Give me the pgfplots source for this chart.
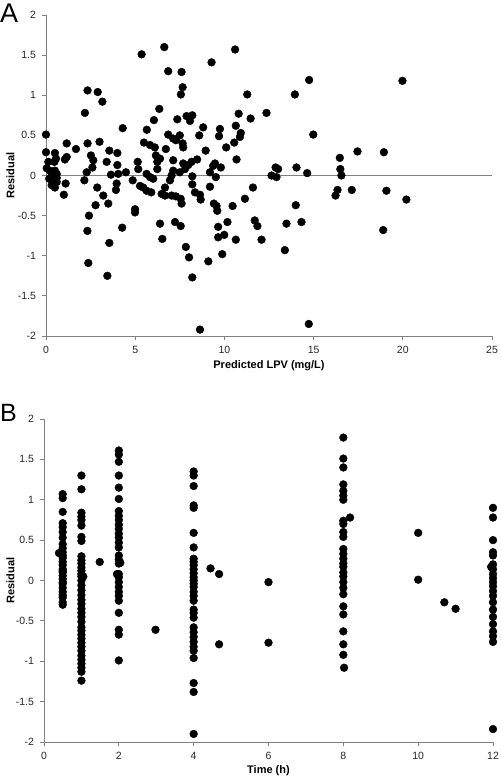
\documentclass[border=0pt]{standalone}
\usepackage{pgfplots}
\pgfplotsset{compat=1.18}
\usepackage{fontspec}
\setmainfont{Liberation Sans}
\definecolor{axgray}{RGB}{128,128,128}
\pgfplotsset{
  resid/.style={
    scale only axis,
    axis lines*=left,
    axis line style={axgray, line width=0.9pt, -},
    tick style={axgray, line width=0.8pt},
    tick align=outside,
    major tick length=4pt,
    /pgf/number format/assume math mode=true,
    ticklabel style={font=\fontsize{10.5}{11}\selectfont, text=black!85},
    yticklabel style={xshift=-2.5pt},
    xticklabel style={yshift=-2.5pt},
    label style={font=\fontsize{11}{12}\selectfont\bfseries},
    ymin=-2, ymax=2,
    ytick={-2,-1.5,-1,-0.5,0,0.5,1,1.5,2},
    yticklabels={-2,-1.5,-1,-0.5,0,0.5,1,1.5,2},
    clip=false,
  },
  dots/.style={only marks, mark=*, mark size=3.9pt, mark options={fill=black, draw=black}},
}
\begin{document}
\begin{tikzpicture}
\useasboundingbox (0,0) rectangle (500pt,-778pt);
% Panel A
\begin{axis}[resid,
  at={(46pt,-336pt)}, anchor=south west,
  width=446pt, height=321pt,
  xmin=0, xmax=25,
  xtick={0,5,10,15,20,25}, xticklabels={0,5,10,15,20,25},
  xlabel={Predicted LPV (mg/L)}, ylabel={Residual},
  xlabel style={at={(axis description cs:0.5,-0.092)}, anchor=center},
  ylabel style={at={(axis description cs:-0.0796,0.5)}, anchor=center},
]
\addplot[axgray, line width=0.8pt] coordinates {(0,0) (25,0)};
\addplot[dots] table {
0 0.51
0 0.29
0.13 0.17
0.04 0.09
0.5 0.28
0.56 0.21
0.47 0.17
0.22 0.06
0.5 0.06
0.6 0.02
0.32 -0.01
0.41 -0.06
0.6 -0.08
0.32 -0.12
0.5 -0.15
0.6 -0.03
0.18 -0.04
1.0 -0.24
1.1 -0.10
1.16 0.40
1.68 0.33
1.06 0.20
1.16 0.23
2.18 0.78
2.33 1.06
2.9 1.04
3.16 0.92
2.33 0.40
3.0 0.42
2.52 0.25
2.65 0.19
2.6 0.10
2.28 0.04
2.15 -0.06
2.87 -0.15
3.21 -0.25
2.78 -0.37
3.49 -0.35
2.41 -0.50
2.32 -0.69
2.37 -1.09
3.44 -1.25
3.55 -0.84
3.55 0.31
3.4 0.17
3.64 0.01
4.0 0.28
4.0 0.13
4.05 0.02
4.48 0.04
3.96 -0.10
3.92 -0.18
4.3 0.59
4.27 -0.65
4.86 -0.06
4.99 -0.42
4.99 -0.46
5.14 0.17
5.17 0.08
5.27 -0.13
5.36 1.51
5.49 0.41
5.65 0.57
5.45 -0.15
5.64 -0.19
5.9 -0.21
5.64 0.02
5.83 -0.02
6.01 -0.04
5.83 0.38
6.1 0.35
6.05 0.69
6.35 0.83
6.16 0.25
6.24 0.17
6.39 0.21
6.24 0.08
6.48 -0.23
6.39 -0.60
6.52 -0.79
6.63 1.60
6.85 1.30
6.72 0.33
6.85 0.51
7.13 0.46
7.5 0.50
7.28 0.44
7.66 0.40
7.69 0.35
7.36 0.70
7.13 0.19
7.13 0.06
7.04 0.0
7.5 0.04
7.79 0.08
6.95 -0.06
6.67 -0.15
6.67 -0.25
7.04 -0.25
7.28 -0.26
7.55 -0.29
7.6 -0.35
7.23 -0.58
7.55 -0.63
7.84 -0.89
7.6 1.29
7.66 1.10
7.56 1.01
7.69 0.15
7.88 0.74
7.97 0.13
8.02 -1.02
8.2 0.75
8.07 0.68
8.16 0.17
8.2 -0.01
8.2 -0.11
8.47 0.20
8.59 0.50
8.81 0.60
8.95 0.31
8.35 -0.21
8.63 -0.24
8.67 -0.30
8.2 -1.27
8.63 -1.92
9.1 -1.07
9.28 1.41
9.19 0.04
9.37 0.12
9.47 0.15
9.52 -0.02
9.8 0.10
9.19 -0.14
9.41 -0.35
9.56 -0.38
9.6 -0.44
9.65 -0.64
9.65 -0.77
9.99 -0.74
9.88 -0.98
9.75 0.58
9.7 0.49
10.1 0.35
10.17 -0.58
10.46 -0.38
10.55 0.41
10.64 0.62
10.6 1.57
10.68 0.20
10.8 0.77
10.87 0.48
10.92 0.53
10.64 -0.80
11.28 1.01
11.47 0.71
11.15 -0.29
11.6 -0.15
11.7 -0.56
11.85 -0.63
12.08 -0.80
12.36 0.78
12.64 0.0
12.87 0.10
13.01 0.08
12.92 -0.02
13.39 -0.93
13.48 -0.60
13.95 1.01
14.0 -0.37
14.04 0.10
14.32 -0.58
14.64 0.03
14.75 1.19
14.73 -1.85
14.98 0.51
16.23 -0.25
16.34 -0.18
16.47 0.22
16.5 0.08
16.56 0.0
17.14 -0.18
17.46 0.30
18.9 -0.68
18.94 0.29
19.08 -0.19
19.98 1.18
20.2 -0.30
};
\end{axis}
% Panel B
\begin{axis}[resid,
  at={(44pt,-742pt)}, anchor=south west,
  width=449pt, height=323pt,
  xmin=0, xmax=12,
  xtick={0,2,4,6,8,10,12}, xticklabels={0,2,4,6,8,10,12},
  xlabel={Time (h)}, ylabel={Residual},
  xlabel style={at={(axis description cs:0.5,-0.09)}, anchor=center},
  ylabel style={at={(axis description cs:-0.075,0.5)}, anchor=center},
]
\addplot[dots] table {
0.5 1.07
0.5 1.02
0.5 0.85
0.5 0.71
0.5 0.66
0.5 0.60
0.5 0.53
0.5 0.45
0.5 0.40
0.5 0.35
0.5 0.31
0.5 0.28
0.5 0.23
0.5 0.19
0.5 0.14
0.5 0.12
0.5 0.10
0.5 0.06
0.5 0.02
0.5 -0.02
0.5 -0.04
0.5 -0.09
0.5 -0.14
0.5 -0.18
0.5 -0.21
0.5 -0.27
0.5 -0.30
0.4 0.34
1 1.30
1 1.13
1 0.84
1 0.79
1 0.75
1 0.68
1 0.54
1 0.49
1 0.30
1 0.25
1 0.21
1 0.16
1 0.12
1 0.08
1.05 0.05
1 0.05
1 0.0
1 -0.06
1 -0.12
1 -0.18
1 -0.24
1 -0.29
1 -0.35
1 -0.40
1 -0.45
1 -0.51
1 -0.58
1 -0.62
1 -0.67
1 -0.72
1 -0.77
1 -0.82
1 -0.87
1 -0.93
1 -0.98
1 -1.03
1 -1.08
1 -1.13
1 -1.24
1.49 0.23
2 1.61
2 1.56
2 1.47
2 1.30
2 1.15
2 1.01
2 0.86
2 0.80
2 0.75
2 0.69
2 0.64
2 0.58
2 0.53
2 0.47
2 0.41
2 0.31
2 0.26
2.04 0.22
2 0.21
2 0.08
1.95 0.08
2 0.04
2 -0.02
2 -0.08
2 -0.14
2 -0.19
2 -0.25
2 -0.40
2 -0.61
2 -0.67
2 -0.99
2.98 -0.61
4 1.35
4 1.30
4 1.17
4 0.93
4 0.90
4 0.59
4 0.41
4 0.27
4 0.23
4 0.19
4 0.14
4 0.09
4 0.04
4 0.0
4 -0.04
4 -0.08
4 -0.14
4 -0.19
4 -0.25
4 -0.36
4 -0.40
4 -0.46
4 -0.58
4 -0.64
4 -0.70
4 -0.76
4 -0.82
4 -0.87
4 -0.96
4 -1.27
4 -1.38
4 -1.90
4.45 0.15
4.68 0.08
4.68 -0.79
6 -0.02
6 -0.77
8 1.77
8 1.51
8 1.40
8 1.19
8 1.11
8 1.05
8 1.00
8 0.74
8 0.70
8 0.60
8 0.54
8 0.39
8 0.33
8 0.27
8 0.21
8 0.17
8 0.10
8 0.05
8 -0.02
8 -0.09
8 -0.17
8 -0.32
8 -0.42
8 -0.63
8 -0.79
8 -0.92
8.02 -1.08
8.18 0.78
10 0.59
10 0.01
10.7 -0.27
11 -0.35
12 0.90
12 0.78
12 0.50
12 0.35
12 0.31
12 0.20
11.95 0.17
12 0.14
12 0.08
12 0.03
12 -0.02
12 -0.07
12 -0.13
12 -0.19
12 -0.27
12 -0.36
12 -0.45
12 -0.54
12 -0.63
12 -0.69
12 -0.76
12 -1.84
};
\end{axis}
\node[anchor=north west, inner sep=0pt, font=\fontsize{27}{30}\selectfont] at (0pt,-4pt) {A};
\node[anchor=north west, inner sep=0pt, font=\fontsize{25}{28}\selectfont] at (0pt,-404pt) {B};
\end{tikzpicture}
\end{document}
